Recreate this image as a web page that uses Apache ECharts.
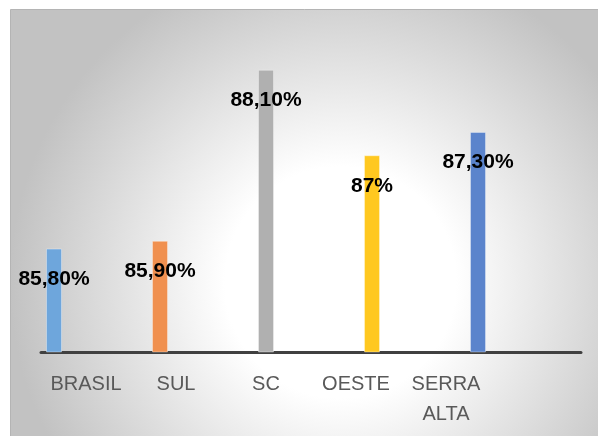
<!DOCTYPE html>
<html>
<head>
<meta charset="utf-8">
<script src="https://cdn.jsdelivr.net/npm/echarts@6/dist/echarts.min.js"></script>
<style>
  html, body { margin: 0; padding: 0; background: #fff; }
  #chart { width: 598px; height: 436px; }
</style>
</head>
<body>
<div id="chart"></div>
<script>
// categories (last slot is empty in the original)
const categories = ['BRASIL', 'SUL', 'SC', 'OESTE', 'SERRA\nALTA', '']
const names = ['BRASIL', 'SUL', 'SC', 'OESTE', 'SERRA ALTA']
const values = [85.8, 85.9, 88.1, 87, 87.3]
const colors = ['#6ea6dc', '#f0904f', '#b0b0b0', '#ffc820', '#5b84cc']

const fmt = (v) => (Number.isInteger(v) ? String(v) : v.toFixed(2).replace('.', ',')) + '%'

// one series per region, value only in its own category
let series = names.map((name, i) => {
  let data = categories.map(() => '-')
  data[i] = values[i]
  return {
    name: name,
    type: 'bar',
    barWidth: 16,
    barGap: 0,
    data: data,
    itemStyle: {
      color: colors[i],
      borderColor: 'rgba(255,255,255,0.35)',
      borderWidth: 1
    },
    label: {
      show: true,
      position: 'insideTop',
      distance: 20,
      color: '#000',
      fontSize: 21,
      fontWeight: 'bold',
      fontFamily: 'Liberation Sans',
      formatter: (p) => fmt(p.value)
    }
  }
})

let myChart = echarts.init(document.getElementById('chart'))
let option = {
  animation: false,
  graphic: [{
    type: 'rect',
    z: -10,
    silent: true,
    shape: { x: 10.5, y: 9.5, width: 600, height: 440 },
    style: {
      fill: {
        type: 'radial', x: 0.55, y: 0.62, r: 0.75,
        colorStops: [
          { offset: 0, color: '#ffffff' },
          { offset: 0.35, color: '#ffffff' },
          { offset: 1, color: '#c2c2c2' }
        ]
      },
      stroke: '#b4b4b4',
      lineWidth: 1
    }
  }],
  grid: { left: 41, right: 17, top: 41, bottom: 84 },
  xAxis: {
    type: 'category',
    data: categories,
    axisLine: { lineStyle: { color: '#404040', width: 3 } },
    axisTick: { show: false },
    axisLabel: {
      color: '#595959',
      fontSize: 20,
      lineHeight: 30,
      fontFamily: 'Liberation Sans',
      margin: 17,
      interval: 0
    }
  },
  yAxis: {
    type: 'value',
    min: 84.47,
    max: 88.47,
    show: false,
    splitLine: { show: false }
  },
  series: series
}
myChart.setOption(option)
</script>
</body>
</html>
